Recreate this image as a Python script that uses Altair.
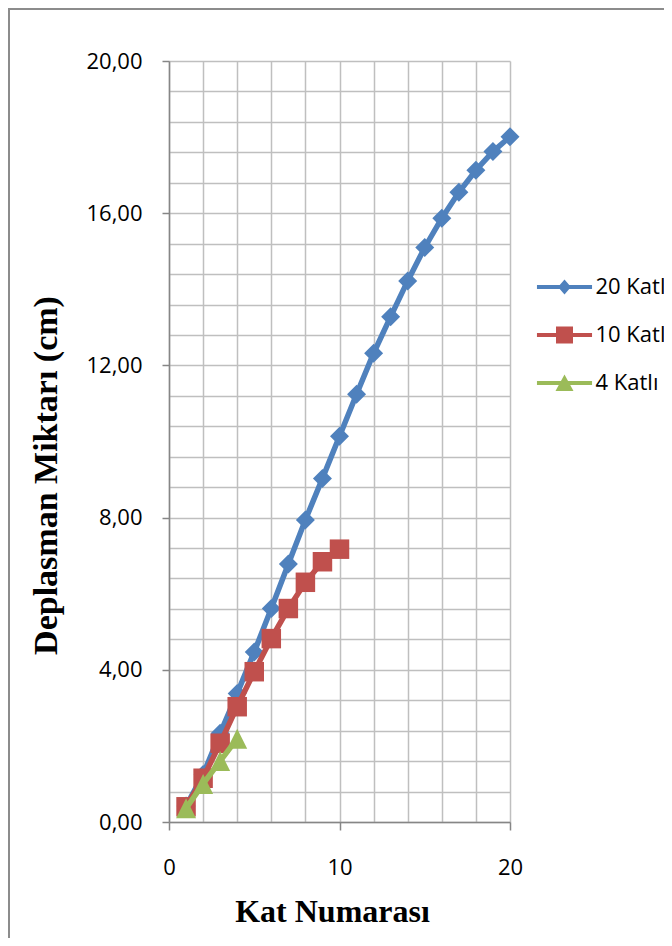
import altair as alt
import pandas as pd

# ---- data ----
series_names = ["20 Katlı", "10 Katlı", "4 Katlı"]
series_colors = ["#4F81BD", "#C0504D", "#9BBB59"]
kat20 = list(range(1, 21))
dep20 = [0.42, 1.25, 2.33, 3.38, 4.47, 5.61, 6.78, 7.94, 9.03, 10.14,
         11.24, 12.32, 13.28, 14.22, 15.10, 15.87, 16.55, 17.13, 17.62, 18.01]
kat10 = list(range(1, 11))
dep10 = [0.40, 1.15, 2.07, 3.03, 3.95, 4.82, 5.61, 6.30, 6.84, 7.17]
kat4 = [1, 2, 3, 4]
dep4 = [0.36, 1.00, 1.60, 2.19]

x_grid = [0, 2, 4, 6, 8, 10, 12, 14, 16, 18, 20]
y_grid = [0, 0.8, 1.6, 2.4, 3.2, 4, 4.8, 5.6, 6.4, 7.2, 8, 8.8, 9.6, 10.4,
          11.2, 12, 12.8, 13.6, 14.4, 15.2, 16, 16.8, 17.6, 18.4, 19.2, 20]

rows = []
for name, ks, ds in zip(series_names, [kat20, kat10, kat4], [dep20, dep10, dep4]):
    for k, d in zip(ks, ds):
        rows.append({"kat": k, "dep": d, "seri": name})
df = pd.DataFrame(rows)

# ---- styles ----
DIA = "M0,-1L1,0L0,1L-1,0Z"
TRI = "M0,-1L1,1L-1,1Z"
marker_shapes = [DIA, "square", TRI]
marker_sizes = [361, 380, 400]

LINE = "M-3.24,-0.235H3.24V0.235H-3.24Z"
P20 = LINE + " M0,-0.88L0.76,0L0,0.88L-0.76,0Z"
P10 = LINE + " M-1,-1H1V1H-1Z"
P4 = LINE + " M0,-1L1.06,0.95L-1.06,0.95Z"
shape_expr = ("datum.value === '20 Katlı' ? '" + P20 + "' : (datum.value === '10 Katlı' ? '"
              + P10 + "' : '" + P4 + "')")

legend = alt.Legend(
    title=None, orient="none", legendX=384.5, legendY=215, padding=0,
    symbolSize=289, symbolStrokeWidth=0, symbolOpacity=1, labelOffset=20, rowPadding=26,
    symbolType={"expr": shape_expr},
    labelFont="Open Sans", labelFontSize=22, labelColor="black", labelLimit=400,
)

color_leg = alt.Color("seri:N", scale=alt.Scale(domain=series_names, range=series_colors), legend=legend)

MAJ_Y = "abs(datum.value/4 - round(datum.value/4)) < 0.001"
x_axis = alt.Axis(
    values=x_grid, title="Kat Numarası", grid=True, gridColor="#bfbfbf", gridWidth=1.5,
    domainColor="#868686", domainWidth=1.5,
    tickColor={"condition": {"test": "datum.value % 10 === 0", "value": "#868686"}, "value": "transparent"},
    tickSize=8, tickWidth=1.5,
    labelExpr="datum.value % 10 === 0 ? datum.label : ''",
    labelFont="Open Sans", labelFontSize=22, labelColor="black", labelPadding=27,
    labelOverlap=False, labelFlush=False,
    titleFont="Liberation Serif", titleFontWeight="bold", titleFontSize=32, titleColor="black",
    titleX=163, titleY=99, titleBaseline="alphabetic", titleAlign="center",
)
y_axis = alt.Axis(
    values=y_grid, title="Deplasman Miktarı (cm)", grid=True, gridColor="#bfbfbf", gridWidth=1.5,
    domainColor="#868686", domainWidth=1.5,
    tickColor={"condition": {"test": MAJ_Y, "value": "#868686"}, "value": "transparent"},
    tickSize=7, tickWidth=1.5,
    labelExpr=MAJ_Y + " ? replace(format(datum.value, '.2f'), '.', ',') : ''",
    labelFont="Open Sans", labelFontSize=22, labelColor="black", labelPadding=20,
    labelOverlap=False, labelFlush=False,
    titleFont="Liberation Serif", titleFontWeight="bold", titleFontSize=34, titleColor="black",
    titleX=-113, titleY=414, titleBaseline="alphabetic", titleAlign="center", titleAngle=270,
)

x_enc = alt.X("kat:Q", scale=alt.Scale(domain=[0, 20], nice=False), axis=x_axis)
y_enc = alt.Y("dep:Q", scale=alt.Scale(domain=[0, 20], nice=False), axis=y_axis)

layers = []
for name, shp, sz in zip(series_names, marker_shapes, marker_sizes):
    base = alt.Chart(df).transform_filter(alt.datum.seri == name)
    layers.append(base.mark_line(strokeWidth=5.5).encode(x=x_enc, y=y_enc, color=color_leg, order="kat:Q"))
    layers.append(base.mark_point(filled=True, shape=shp, size=sz, opacity=1).encode(
        x=x_enc, y=y_enc, color=color_leg))

frame_data = alt.Data(values=[{"f": 1}])
frame_left = alt.Chart(frame_data).mark_rule(color="#8c8c8c", strokeWidth=2).encode(
    x=alt.value(-160), y=alt.value(-53), y2=alt.value(877))
frame_top = alt.Chart(frame_data).mark_rule(color="#8c8c8c", strokeWidth=2).encode(
    x=alt.value(-160), x2=alt.value(495), y=alt.value(-52))

chart = alt.layer(frame_left, frame_top, *layers).properties(
    width=341, height=761,
    autosize=alt.AutoSizeParams(type="none"),
    padding={"left": 161, "top": 53, "right": 154, "bottom": 116},
).configure_view(stroke=None)

chart.save("out.html", embed_options={"renderer": "svg", "actions": False})
